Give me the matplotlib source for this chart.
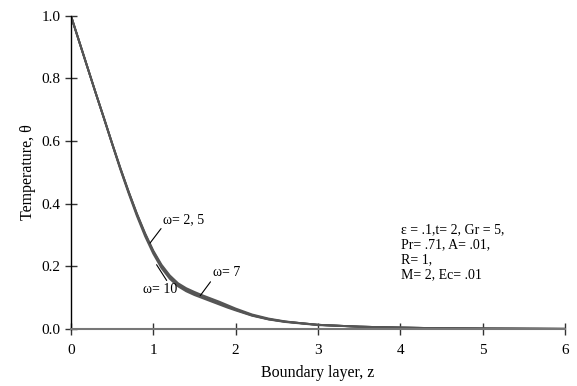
import matplotlib.pyplot as plt

plt.rcParams['font.family'] = ['Liberation Serif', 'DejaVu Serif']

# boundary layer coordinate and temperature profiles for different omega
z = [0, 0.1, 0.2, 0.3, 0.4, 0.5, 0.6, 0.7, 0.8, 0.9, 1.0, 1.1, 1.2, 1.3, 1.4,
     1.5, 1.6, 1.7, 1.8, 1.9, 2.0, 2.2, 2.4, 2.6, 2.8, 3.0, 3.5, 4.0, 4.5,
     5.0, 5.5, 6.0]
theta_w2 = [1.0, 0.918, 0.836, 0.754, 0.674, 0.592, 0.512, 0.437, 0.366, 0.302,
            0.246, 0.200, 0.165, 0.140, 0.124, 0.112, 0.101, 0.091, 0.081, 0.071,
            0.061, 0.043, 0.031, 0.023, 0.018, 0.013, 0.007, 0.004, 0.002, 0.001,
            0.0005, 0.0]
theta_w5 = [1.0, 0.918, 0.836, 0.754, 0.674, 0.592, 0.513, 0.438, 0.367, 0.303,
            0.247, 0.201, 0.166, 0.141, 0.125, 0.113, 0.102, 0.092, 0.082, 0.072,
            0.062, 0.044, 0.031, 0.023, 0.018, 0.013, 0.007, 0.004, 0.002, 0.001,
            0.0005, 0.0]
theta_w7 = [1.0, 0.918, 0.836, 0.754, 0.674, 0.593, 0.514, 0.439, 0.369, 0.306,
            0.250, 0.205, 0.171, 0.146, 0.130, 0.118, 0.107, 0.097, 0.087, 0.076,
            0.065, 0.046, 0.033, 0.024, 0.018, 0.013, 0.007, 0.004, 0.002, 0.001,
            0.0005, 0.0]
theta_w10 = [1.0, 0.917, 0.835, 0.753, 0.672, 0.590, 0.509, 0.433, 0.361, 0.296,
             0.240, 0.194, 0.160, 0.136, 0.120, 0.108, 0.098, 0.088, 0.078, 0.068,
             0.059, 0.042, 0.030, 0.022, 0.017, 0.012, 0.007, 0.004, 0.002, 0.001,
             0.0005, 0.0]

fig = plt.figure(figsize=(5.77, 3.86), dpi=100)
ax = fig.add_axes([0.123, 0.148, 0.856, 0.811])

for th in [theta_w2, theta_w5, theta_w7, theta_w10]:
    ax.plot(z, th, color='#555555', linewidth=1.4)

ax.set_xlim(0, 6)
ax.set_ylim(0, 1.0)
ax.set_xticks([0, 1, 2, 3, 4, 5, 6])
ax.set_yticks([0.0, 0.2, 0.4, 0.6, 0.8, 1.0])
ax.set_yticklabels(['0.0', '0.2', '0.4', '0.6', '0.8', '1.0'])

ax.spines['top'].set_visible(False)
ax.spines['right'].set_visible(False)
ax.spines['bottom'].set_color('#777777')
ax.spines['bottom'].set_linewidth(1.5)
ax.spines['left'].set_color('black')
ax.spines['left'].set_linewidth(1.0)
ax.tick_params(axis='both', direction='inout', length=8, width=1,
               labelsize=11, colors='#333333', labelcolor='black')
ax.tick_params(axis='x', pad=7)

ax.set_xlabel('Boundary layer, z', fontsize=11.5, labelpad=6)
ax.set_ylabel('Temperature, θ', fontsize=11.5)

# curve labels with leader lines
ax.annotate('ω= 2, 5', xy=(0.96, 0.274), xytext=(1.12, 0.35),
            fontsize=10, va='center', ha='left',
            arrowprops=dict(arrowstyle='-', color='black', lw=0.8,
                            shrinkA=0, shrinkB=0, relpos=(0.0, 0.0)))
ax.annotate('ω= 10', xy=(1.04, 0.205), xytext=(1.08, 0.125),
            fontsize=10, va='center', ha='center',
            arrowprops=dict(arrowstyle='-', color='black', lw=0.8,
                            shrinkA=0, shrinkB=0, relpos=(0.75, 1.0)))
ax.annotate('ω= 7', xy=(1.57, 0.106), xytext=(1.72, 0.18),
            fontsize=10, va='center', ha='left',
            arrowprops=dict(arrowstyle='-', color='black', lw=0.8,
                            shrinkA=0, shrinkB=0, relpos=(0.0, 0.0)))

ax.text(4.01, 0.246, 'ε = .1,t= 2, Gr = 5,\nPr= .71, A= .01,\nR= 1,\nM= 2, Ec= .01',
        fontsize=10, va='center', ha='left', linespacing=1.2)

fig.savefig('out.png', dpi=100)
